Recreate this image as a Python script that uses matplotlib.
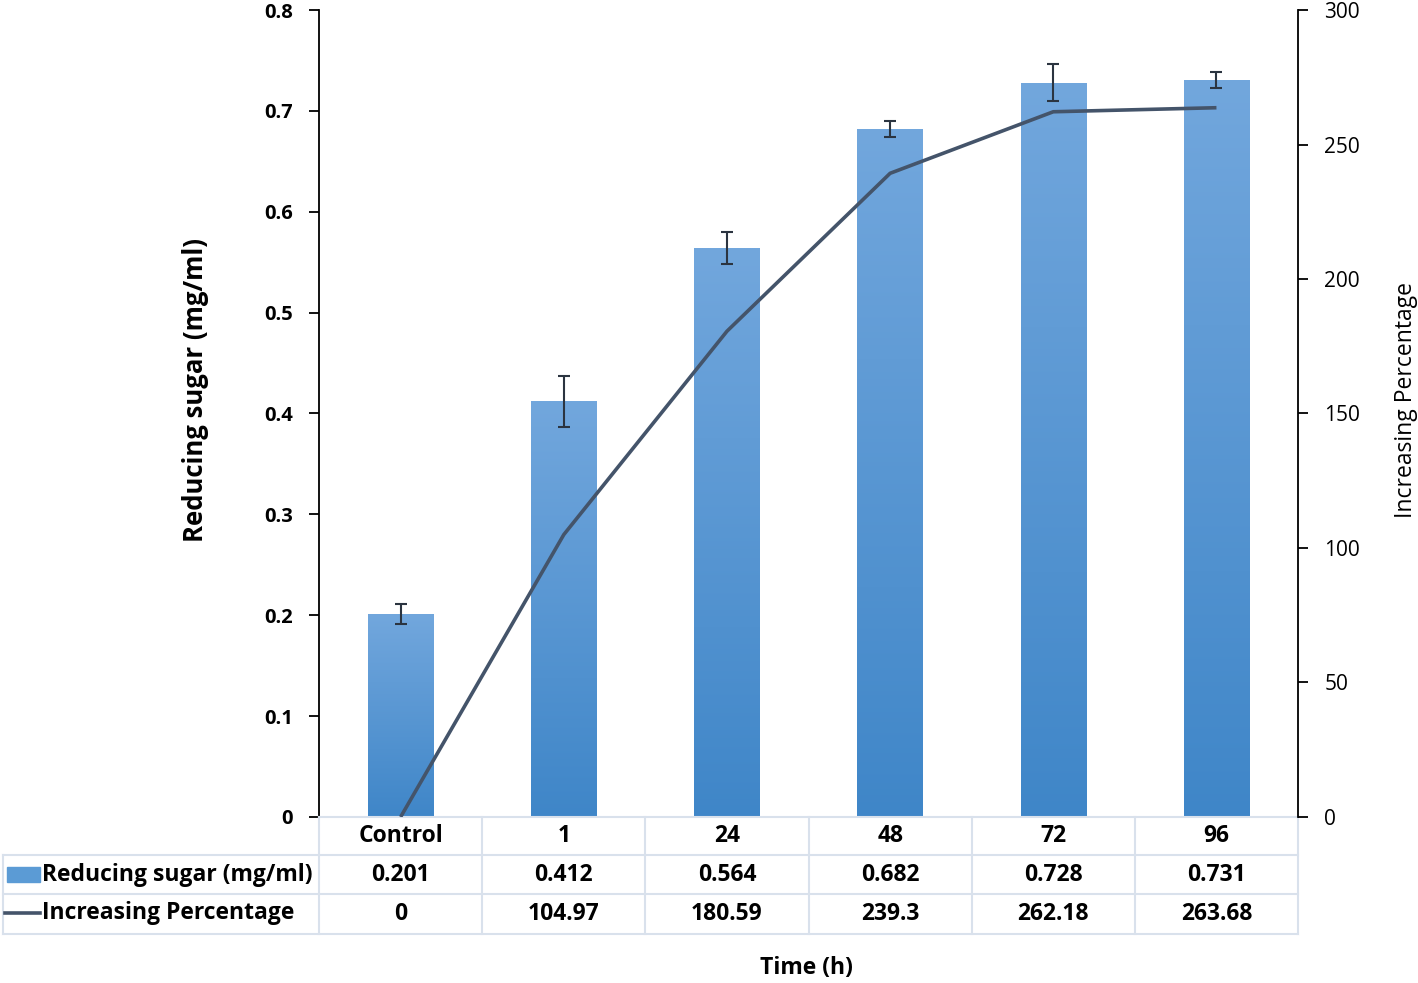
import numpy as np
import matplotlib.pyplot as plt
from matplotlib.lines import Line2D
from matplotlib.colors import LinearSegmentedColormap
import matplotlib.transforms as mtransforms

plt.rcParams['font.family'] = ['Open Sans', 'DejaVu Sans']

# data
categories = ['Control', '1', '24', '48', '72', '96']
sugar = [0.201, 0.412, 0.564, 0.682, 0.728, 0.731]
sugar_err = [0.010, 0.025, 0.016, 0.008, 0.018, 0.008]
increase = [0, 104.97, 180.59, 239.3, 262.18, 263.68]
increase_labels = ['0', '104.97', '180.59', '239.3', '262.18', '263.68']

bar_top = '#72a7dd'
bar_bottom = '#3f86c8'
line_col = '#44546a'
grid_col = '#d9e1ec'

fig = plt.figure(figsize=(14.18, 9.83), dpi=100)
ax = fig.add_axes([0.225, 0.1689, 0.6904, 0.8209])
ax2 = ax.twinx()
ax.set_zorder(1)
ax.patch.set_visible(False)
ax2.set_zorder(2)

x = np.arange(len(categories))
bars = ax.bar(x, sugar, width=0.4, color=bar_bottom, zorder=2)

# gradient fill clipped to each bar
cmap = LinearSegmentedColormap.from_list('g', [bar_bottom, bar_top])
grad = np.linspace(0, 1, 256).reshape(-1, 1)
for b in bars:
    x0, w, h = b.get_x(), b.get_width(), b.get_height()
    im = ax.imshow(grad, cmap=cmap, origin='lower', aspect='auto',
                   extent=[x0, x0 + w, 0, h], zorder=2.1)
    im.set_clip_path(b)

ax.errorbar(x, sugar, yerr=sugar_err, fmt='none', ecolor='#2b3440',
            elinewidth=1.5, capsize=4, capthick=1.5, zorder=3)

ax2.plot(x, increase, color=line_col, lw=2.6, zorder=4,
         solid_capstyle='butt')

ax.set_xlim(-0.5, 5.5)
ax.set_ylim(0, 0.8)
ax2.set_ylim(0, 300)
ax.set_yticks(np.arange(0, 0.81, 0.1))
ax.set_yticklabels(['0'] + ['%.1f' % v for v in np.arange(0.1, 0.81, 0.1)])
ax2.set_yticks(np.arange(0, 301, 50))

for a in (ax, ax2):
    for s in ['top', 'bottom']:
        a.spines[s].set_visible(False)
    a.set_xticks([])
ax.spines['right'].set_visible(False)
ax2.spines['left'].set_visible(False)
ax.spines['left'].set_linewidth(1.3)
ax2.spines['right'].set_linewidth(1.3)
ax.tick_params(axis='y', length=7, width=1.3, pad=12, labelsize=14.5)
ax2.tick_params(axis='y', length=7, width=1.3, pad=12, labelsize=15)
for t in ax.get_yticklabels():
    t.set_fontweight('bold')

ax.set_ylabel('Reducing sugar (mg/ml)', fontsize=18.5, fontweight='bold')
ax.yaxis.set_label_coords(-0.1124, 0.529)
ax2.set_ylabel('Increasing Percentage', fontsize=16.5)
ax2.yaxis.set_label_coords(1.0985, 0.517)

# data table below the plot
def fy(py):
    return 1 - py / 983.0

def fx(px):
    return px / 1418.0

trans = mtransforms.blended_transform_factory(ax.transData, fig.transFigure)
row_lines = [817, 855, 894, 934]
edges = np.arange(len(categories) + 1) - 0.5

for i, py in enumerate(row_lines):
    if i == 0:
        fig.add_artist(Line2D([edges[0], edges[-1]], [fy(py)] * 2,
                              transform=trans, color=grid_col, lw=1.5))
    else:
        fig.add_artist(Line2D([fx(3), fx(1298)], [fy(py)] * 2,
                              transform=fig.transFigure, color=grid_col, lw=1.5))
for e in edges:
    fig.add_artist(Line2D([e, e], [fy(817), fy(934)], transform=trans,
                          color=grid_col, lw=1.5))
fig.add_artist(Line2D([fx(3), fx(3)], [fy(855), fy(934)],
                      transform=fig.transFigure, color=grid_col, lw=1.5))

tfont = dict(fontsize=16.5, fontweight='bold', ha='center', va='center')
for i in range(len(categories)):
    fig.text(x[i], fy(836), categories[i], transform=trans, **tfont)
    fig.text(x[i], fy(875), '%.3f' % sugar[i], transform=trans, **tfont)
    fig.text(x[i], fy(914), increase_labels[i], transform=trans, **tfont)

# legend keys inside table
fig.add_artist(plt.Rectangle((fx(7), fy(882)), fx(33), 15 / 983.0,
                             transform=fig.transFigure, color='#5b9bd5'))
fig.add_artist(Line2D([fx(5), fx(40)], [fy(913)] * 2,
                      transform=fig.transFigure, color=line_col, lw=2.6))
fig.text(fx(42), fy(875), 'Reducing sugar (mg/ml)', fontsize=16.5,
         fontweight='bold', ha='left', va='center')
fig.text(fx(42), fy(913), 'Increasing Percentage', fontsize=16.5,
         fontweight='bold', ha='left', va='center')

fig.text(fx(806), fy(968), 'Time (h)', fontsize=16.5, fontweight='bold',
         ha='center', va='center')

plt.savefig('out.png', dpi=100)
